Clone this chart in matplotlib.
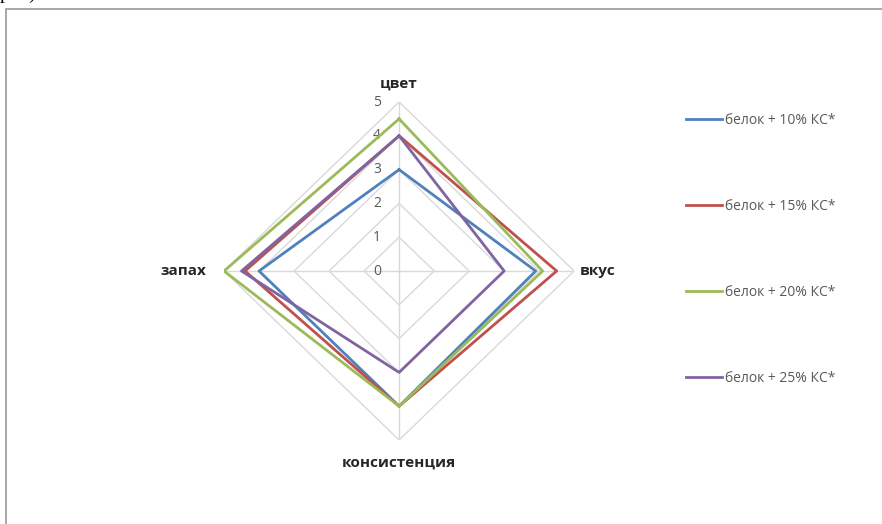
import numpy as np
import matplotlib.pyplot as plt
from matplotlib.patches import Rectangle

# data
categories = ['цвет', 'вкус', 'консистенция', 'запах']
series_names = ['белок + 10% КС*', 'белок + 15% КС*', 'белок + 20% КС*', 'белок + 25% КС*']
protein_10 = [3.0, 3.9, 4.0, 4.0]
protein_15 = [4.0, 4.5, 4.0, 4.4]
protein_20 = [4.5, 4.1, 4.0, 5.0]
protein_25 = [4.0, 3.0, 3.0, 4.5]
scale_ticks = [0, 1, 2, 3, 4, 5]

colors = ['#4F81BD', '#C0504D', '#9BBB59', '#8064A2']
grid_color = '#D9D9D9'
text_color = '#595959'

plt.rcParams['font.family'] = ['Open Sans', 'DejaVu Sans']

fig = plt.figure(figsize=(8.82, 5.24), dpi=100)

# outer frame of the embedded chart
fig.patches.append(Rectangle((5.5 / 882, -0.1), 2.0, 1.1 - 9 / 524,
                             transform=fig.transFigure, fill=False,
                             edgecolor='#9A9A9A', linewidth=1.2))
fig.text(0.0, 1 + 1.5 / 524, 'р. 4).', va='baseline', ha='left',
         fontfamily='Liberation Serif', fontsize=14, color='black')

ax = fig.add_axes([0.254, 0.1603, 0.397, 0.645], projection='polar')
ax.set_aspect('auto')
ax.set_theta_offset(np.pi / 2)
ax.set_theta_direction(-1)
ax.set_ylim(0, 5)
ax.grid(False)
ax.spines['polar'].set_visible(False)
ax.set_xticks([])
ax.set_yticks([])
ax.patch.set_alpha(0)

angles = np.linspace(0, 2 * np.pi, len(categories), endpoint=False)
closed = np.concatenate([angles, angles[:1]])

# diamond grid and spokes
for r in scale_ticks[1:]:
    ax.plot(closed, [r] * len(closed), color=grid_color, linewidth=1.0, zorder=1)
for a in angles:
    ax.plot([a, a], [0, 5], color=grid_color, linewidth=1.0, zorder=1)

# scale labels along the top spoke
for r in scale_ticks:
    ax.annotate(str(r), xy=(0, r), xytext=(-13, 0), textcoords='offset points',
                ha='right', va='center', fontsize=10, color=text_color)

# category labels
ax.annotate(categories[0], xy=(angles[0], 5), xytext=(0, 8), textcoords='offset points',
            ha='center', va='bottom', fontsize=11, fontweight='bold', color='#262626')
ax.annotate(categories[1], xy=(angles[1], 5), xytext=(4, 0), textcoords='offset points',
            ha='left', va='center', fontsize=11, fontweight='bold', color='#262626')
ax.annotate(categories[2], xy=(angles[2], 5), xytext=(0, -11), textcoords='offset points',
            ha='center', va='top', fontsize=11, fontweight='bold', color='#262626')
ax.annotate(categories[3], xy=(angles[3], 5), xytext=(-13, 0), textcoords='offset points',
            ha='right', va='center', fontsize=11, fontweight='bold', color='#262626')

all_series = [protein_10, protein_15, protein_20, protein_25]
for vals, name, c in zip(all_series, series_names, colors):
    v = list(vals) + [vals[0]]
    ax.plot(closed, v, color=c, linewidth=2.0, label=name, zorder=3)

leg = fig.legend(loc='upper left', bbox_to_anchor=(686 / 882, 1 - 113 / 524),
                 frameon=False, fontsize=10, labelcolor=text_color,
                 handlelength=2.6, handletextpad=0.2, labelspacing=5.1,
                 borderaxespad=0, borderpad=0)

fig.savefig('out.png', dpi=100, facecolor='white')
